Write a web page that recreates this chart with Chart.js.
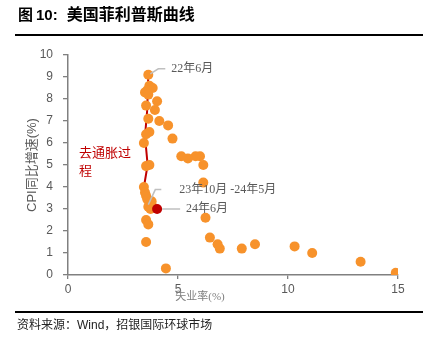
<!DOCTYPE html>
<html>
<head>
<meta charset="utf-8">
<script src="https://cdn.jsdelivr.net/npm/chart.js@4"></script>
<style>
  html, body { margin: 0; padding: 0; background: #fff; }
  canvas { display: block; }
</style>
</head>
<body>
<canvas id="chartPhillips" width="435" height="341"></canvas>
<script>
// 失业率(%) y CPI同比增速(%)
const desempleo = [3.55, 3.65, 3.55, 4.45, 14.9, 13.3, 11.1, 10.3, 8.5, 7.9, 6.9, 6.8, 6.45, 6.25,
  6.15, 6.15, 6.0, 5.8, 5.45, 5.15, 4.75, 4.55, 4.15, 3.95, 4.05, 3.55, 3.7, 3.85, 3.65, 3.6,
  3.5, 3.65, 3.65, 3.7, 3.55, 3.45, 3.55, 3.7, 3.45, 3.5, 3.55, 3.6, 3.7, 3.75, 3.65, 3.8, 3.75, 3.8];
const cpi = [2.5, 2.3, 1.5, 0.3, 0.1, 0.6, 1.0, 1.3, 1.4, 1.2, 1.2, 1.4, 1.7, 2.6,
  4.2, 5.0, 5.4, 5.4, 5.3, 5.4, 6.2, 6.8, 7.0, 7.5, 7.9, 7.7, 8.6, 8.5, 9.1, 8.4,
  8.3, 8.2, 7.1, 6.5, 6.4, 6.0, 4.95, 5.0, 4.0, 3.75, 3.6, 3.45, 3.3, 3.15, 3.1, 3.2, 3.0, 3.35];

// 24年6月
const ultimoX = [4.05];
const ultimoY = [3.0];

// 去通胀过程 (línea roja)
const lineaX = [3.65, 3.6, 3.5, 3.62, 3.45];
const lineaY = [9.1, 7.5, 6.3, 5.0, 4.0];

// etiquetas
const etiquetas = ['22年6月', '23年10月 -24年5月', '24年6月'];
const etiquetaX = [3.65, 3.65, 4.05];
const etiquetaY = [9.1, 3.2, 3.0];

const ticksX = [0, 5, 10, 15];
const ticksY = [0, 1, 2, 3, 4, 5, 6, 7, 8, 9, 10];

const SANS = '"Liberation Sans", "Noto Sans CJK SC", sans-serif';
const SERIF = '"Liberation Serif", "Noto Sans CJK SC", serif';

const puntos = desempleo.map((x, i) => ({ x: x, y: cpi[i] }));
const puntoRojo = ultimoX.map((x, i) => ({ x: x, y: ultimoY[i] }));
const linea = lineaX.map((x, i) => ({ x: x, y: lineaY[i] }));

const marcoPlugin = {
    id: 'marco',
    afterDraw(chart) {
        const ctx = chart.ctx;
        const { left, bottom } = chart.chartArea;
        const sx = chart.scales.x;
        const sy = chart.scales.y;
        ctx.save();

        // título
        ctx.fillStyle = '#000';
        ctx.textBaseline = 'middle';
        ctx.textAlign = 'left';
        ctx.font = 'bold 15px ' + SANS;
        ctx.fillText('图', 18, 16);
        ctx.fillText('10:', 36, 16);
        const w = ctx.measureText('10:').width;
        ctx.font = 'bold 16px ' + SANS;
        ctx.fillText('美国菲利普斯曲线', 36 + w + 9, 16);

        ctx.fillRect(15, 34, 408, 2);
        ctx.fillRect(15, 311, 408, 2);

        // fuente
        ctx.fillStyle = '#222';
        ctx.font = '12px ' + SANS;
        ctx.fillText('资料来源：Wind，招银国际环球市场', 17, 326);

        // título eje x
        ctx.fillStyle = '#7f7f7f';
        ctx.font = '11px ' + SERIF;
        ctx.textAlign = 'center';
        ctx.fillText('失业率(%)', sx.getPixelForValue(6), bottom + 22);

        // 去通胀过程
        ctx.fillStyle = '#C00000';
        ctx.font = '13px ' + SERIF;
        ctx.textAlign = 'left';
        const yTxt = sy.getPixelForValue(5.5);
        ctx.fillText('去通胀过', left + 11, yTxt);
        ctx.fillText('程', left + 11, yTxt + 18);

        // etiquetas con guías
        const guias = [
            [[2, -1], [10, -6], [17, -6], [23, -6]],
            [[0, 0], [7, -15], [13, -15], [31, -15]],
            [[5, 0], [5, 0], [23, 0], [29, 0]]
        ];
        ctx.strokeStyle = '#bfbfbf';
        ctx.lineWidth = 1.5;
        ctx.fillStyle = '#595959';
        ctx.font = '12px ' + SERIF;
        etiquetas.forEach((txt, i) => {
            const px = sx.getPixelForValue(etiquetaX[i]);
            const py = sy.getPixelForValue(etiquetaY[i]);
            const g = guias[i];
            ctx.beginPath();
            ctx.moveTo(px + g[0][0], py + g[0][1]);
            ctx.lineTo(px + g[1][0], py + g[1][1]);
            ctx.lineTo(px + g[2][0], py + g[2][1]);
            ctx.stroke();
            ctx.fillText(txt, px + g[3][0], py + g[3][1]);
        });

        ctx.restore();
    }
};

new Chart(document.getElementById('chartPhillips'), {
    type: 'scatter',
    data: {
        datasets: [
            {
                label: '去通胀过程',
                data: linea,
                showLine: true,
                borderColor: '#C00000',
                borderWidth: 2,
                pointRadius: 0,
                order: 3
            },
            {
                label: 'CPI',
                data: puntos,
                backgroundColor: '#F7922B',
                borderWidth: 0,
                pointRadius: 5,
                order: 2
            },
            {
                label: '24年6月',
                data: puntoRojo,
                backgroundColor: '#C00000',
                borderWidth: 0,
                pointRadius: 5,
                order: 1
            }
        ]
    },
    options: {
        responsive: false,
        animation: false,
        layout: { padding: { top: 55, right: 37, left: 0, bottom: 0 } },
        plugins: {
            legend: { display: false },
            tooltip: { enabled: false }
        },
        scales: {
            x: {
                type: 'linear',
                min: 0,
                max: 15,
                afterFit: s => { s.height = 66; },
                afterBuildTicks: s => { s.ticks = ticksX.map(v => ({ value: v })); },
                ticks: { color: '#595959', font: { size: 12, family: SANS }, padding: 3 },
                grid: { drawOnChartArea: false, drawTicks: true, tickLength: 4, color: '#808080', lineWidth: 1.3 },
                border: { color: '#808080', width: 1.5 }
            },
            y: {
                type: 'linear',
                min: 0,
                max: 10,
                afterFit: s => { s.width = 68; },
                afterBuildTicks: s => { s.ticks = ticksY.map(v => ({ value: v })); },
                ticks: { color: '#595959', font: { size: 12, family: SANS }, padding: 10 },
                grid: { drawOnChartArea: false, drawTicks: true, tickLength: 5, color: '#808080', lineWidth: 1.3 },
                border: { color: '#808080', width: 1.5 },
                title: {
                    display: true,
                    text: 'CPI同比增速(%)',
                    color: '#595959',
                    font: { size: 13, family: SANS },
                    padding: { top: 25, bottom: 0 }
                }
            }
        }
    },
    plugins: [marcoPlugin]
});
</script>
</body>
</html>
